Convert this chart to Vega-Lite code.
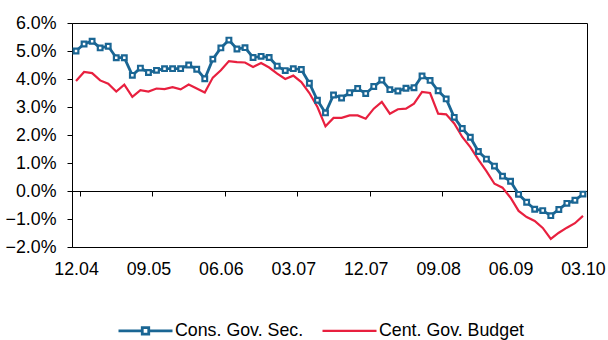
{
  "$schema": "https://vega.github.io/schema/vega-lite/v6.json",
  "width": 515,
  "height": 224,
  "autosize": "none",
  "padding": {"left": 72, "top": 23, "right": 21, "bottom": 93},
  "background": "white",
  "config": {
    "view": {"stroke": "#000000", "strokeWidth": 1},
    "font": "Liberation Sans",
    "axis": {"grid": false, "domainColor": "#000000", "tickColor": "#000000", "labelColor": "#000000", "labelFont": "Liberation Sans", "labelFontSize": 17.8, "title": null}
  },
  "data": {"values": [
    {"month": "12.04", "cons": 5.0, "cent": 3.93},
    {"month": "01.05", "cons": 5.25, "cent": 4.25},
    {"month": "02.05", "cons": 5.35, "cent": 4.21},
    {"month": "03.05", "cons": 5.11, "cent": 3.95},
    {"month": "04.05", "cons": 5.17, "cent": 3.83},
    {"month": "05.05", "cons": 4.76, "cent": 3.55},
    {"month": "06.05", "cons": 4.76, "cent": 3.8},
    {"month": "07.05", "cons": 4.13, "cent": 3.36},
    {"month": "08.05", "cons": 4.39, "cent": 3.6},
    {"month": "09.05", "cons": 4.23, "cent": 3.55},
    {"month": "10.05", "cons": 4.31, "cent": 3.66},
    {"month": "11.05", "cons": 4.37, "cent": 3.64},
    {"month": "12.05", "cons": 4.37, "cent": 3.71},
    {"month": "01.06", "cons": 4.37, "cent": 3.63},
    {"month": "02.06", "cons": 4.5, "cent": 3.8},
    {"month": "03.06", "cons": 4.35, "cent": 3.66},
    {"month": "04.06", "cons": 4.01, "cent": 3.52},
    {"month": "05.06", "cons": 4.71, "cent": 4.05},
    {"month": "06.06", "cons": 5.11, "cent": 4.31},
    {"month": "07.06", "cons": 5.39, "cent": 4.64},
    {"month": "08.06", "cons": 5.07, "cent": 4.6},
    {"month": "09.06", "cons": 5.12, "cent": 4.59},
    {"month": "10.06", "cons": 4.77, "cent": 4.43},
    {"month": "11.06", "cons": 4.81, "cent": 4.57},
    {"month": "12.06", "cons": 4.77, "cent": 4.41},
    {"month": "01.07", "cons": 4.46, "cent": 4.19},
    {"month": "02.07", "cons": 4.3, "cent": 4.0},
    {"month": "03.07", "cons": 4.37, "cent": 4.12},
    {"month": "04.07", "cons": 4.34, "cent": 3.89},
    {"month": "05.07", "cons": 3.85, "cent": 3.5},
    {"month": "06.07", "cons": 3.24, "cent": 3.0},
    {"month": "07.07", "cons": 2.79, "cent": 2.31},
    {"month": "08.07", "cons": 3.43, "cent": 2.61},
    {"month": "09.07", "cons": 3.32, "cent": 2.61},
    {"month": "10.07", "cons": 3.51, "cent": 2.7},
    {"month": "11.07", "cons": 3.66, "cent": 2.7},
    {"month": "12.07", "cons": 3.48, "cent": 2.58},
    {"month": "01.08", "cons": 3.73, "cent": 2.94},
    {"month": "02.08", "cons": 3.96, "cent": 3.18},
    {"month": "03.08", "cons": 3.62, "cent": 2.76},
    {"month": "04.08", "cons": 3.57, "cent": 2.92},
    {"month": "05.08", "cons": 3.67, "cent": 2.94},
    {"month": "06.08", "cons": 3.69, "cent": 3.12},
    {"month": "07.08", "cons": 4.11, "cent": 3.54},
    {"month": "08.08", "cons": 3.95, "cent": 3.5},
    {"month": "09.08", "cons": 3.58, "cent": 2.76},
    {"month": "10.08", "cons": 3.29, "cent": 2.74},
    {"month": "11.08", "cons": 2.63, "cent": 2.41},
    {"month": "12.08", "cons": 2.23, "cent": 1.93},
    {"month": "01.09", "cons": 1.92, "cent": 1.57},
    {"month": "02.09", "cons": 1.41, "cent": 1.12},
    {"month": "03.09", "cons": 1.14, "cent": 0.71},
    {"month": "04.09", "cons": 0.89, "cent": 0.26},
    {"month": "05.09", "cons": 0.53, "cent": 0.12},
    {"month": "06.09", "cons": 0.35, "cent": -0.24},
    {"month": "07.09", "cons": -0.12, "cent": -0.71},
    {"month": "08.09", "cons": -0.4, "cent": -0.93},
    {"month": "09.09", "cons": -0.65, "cent": -1.07},
    {"month": "10.09", "cons": -0.7, "cent": -1.32},
    {"month": "11.09", "cons": -0.88, "cent": -1.71},
    {"month": "12.09", "cons": -0.66, "cent": -1.49},
    {"month": "01.10", "cons": -0.44, "cent": -1.31},
    {"month": "02.10", "cons": -0.33, "cent": -1.15},
    {"month": "03.10", "cons": -0.11, "cent": -0.89}
  ]},
  "transform": [{"fold": ["cons", "cent"], "as": ["series", "value"]}],
  "encoding": {
    "x": {
      "field": "month", "type": "ordinal", "sort": null, "bandPosition": 0.5,
      "scale": {"type": "band", "paddingInner": 0, "paddingOuter": 0},
      "axis": {
        "values": ["12.04", "09.05", "06.06", "03.07", "12.07", "09.08", "06.09", "03.10"],
        "tickBand": "extent", "offset": -56, "labelPadding": 64, "tickSize": 5,
        "labelAngle": 0, "labelOverlap": false
      }
    },
    "y": {
      "field": "value", "type": "quantitative",
      "scale": {"domain": [-2, 6], "nice": false, "zero": false},
      "axis": {"values": [-2, -1, 0, 1, 2, 3, 4, 5, 6], "labelExpr": "format(datum.value, '.1f') + '%'", "tickSize": 5, "labelPadding": 11}
    }
  },
  "layer": [
    {
      "mark": {"type": "line"},
      "encoding": {
        "color": {
          "field": "series", "type": "nominal",
          "scale": {"domain": ["cons", "cent"], "range": ["#1a6694", "#e8203f"]},
          "legend": {
            "orient": "none", "legendX": 45, "legendY": 279, "direction": "horizontal",
            "title": null, "padding": 0,
            "symbolType": "stroke", "symbolSize": 2916, "symbolStrokeWidth": 2.6,
            "labelFontSize": 17.8, "labelColor": "#000000", "labelFont": "Liberation Sans",
            "labelOffset": 1, "columnPadding": 14,
            "labelExpr": "datum.label === 'cons' ? 'Cons. Gov. Sec.' : 'Cent. Gov. Budget'",
            "encode": {"symbols": {"update": {"shape": {"signal": "datum.value === 'cons' ? 'M-1,0H-0.12M0.12,0H1M-0.12,-0.12H0.12V0.12H-0.12Z' : 'M-1,0H1'"}}}}
          }
        },
        "strokeWidth": {"field": "series", "type": "nominal", "scale": {"domain": ["cons", "cent"], "range": [2.8, 2.2]}, "legend": null}
      }
    },
    {
      "transform": [{"filter": "datum.series === 'cons'"}],
      "mark": {"type": "point", "shape": "square", "filled": true, "fill": "white", "stroke": "#1a6694", "strokeWidth": 2.2, "size": 22, "opacity": 1}
    }
  ]
}
